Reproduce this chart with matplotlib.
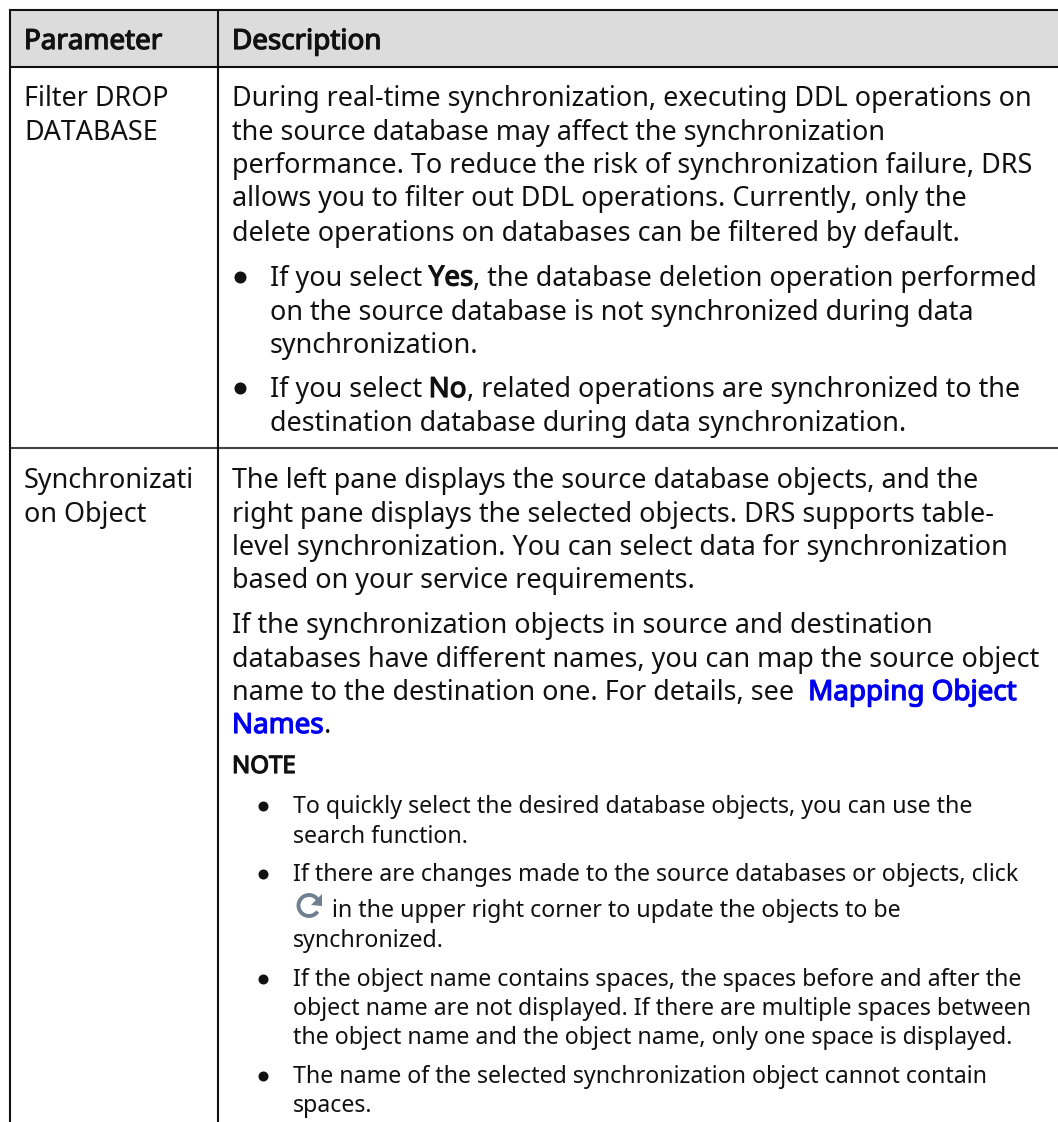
import matplotlib
matplotlib.use('Agg')
import matplotlib.pyplot as plt
import matplotlib.patheffects as pe
from matplotlib.patches import Arc, Polygon, Rectangle

plt.rcParams['font.family'] = ['Noto Sans', 'DejaVu Sans']

W, H = 1058, 1122
BODY = 19.4
BOLD = 20.0
SMALL = 16.7
BLACK = '#111111'
LINK = '#0000ee'

headers = ['Parameter', 'Description']

# each line: baseline y, x, list of (text, style)
left_lines = [
    (106, 'Filter DROP'),
    (140, 'DATABASE'),
    (487.5, 'Synchronizati'),
    (522, 'on Object'),
]

body_lines = [
    (106, 232, [('During real-time synchronization, executing DDL operations on', 'n')]),
    (140, 232, [('the source database may affect the synchronization', 'n')]),
    (172.5, 232, [('performance. To reduce the risk of synchronization failure, DRS', 'n')]),
    (206, 232, [('allows you to filter out DDL operations. Currently, only the', 'n')]),
    (241, 232, [('delete operations on databases can be filtered by default.', 'n')]),
    (285.5, 269.5, [('If you select ', 'n'), ('Yes', 'b'), (', the database deletion operation performed', 'n')]),
    (320, 269.5, [('on the source database is not synchronized during data', 'n')]),
    (353, 269.5, [('synchronization.', 'n')]),
    (397, 269.5, [('If you select ', 'n'), ('No', 'b'), (', related operations are synchronized to the', 'n')]),
    (431, 269.5, [('destination database during data synchronization.', 'n')]),
    (487.5, 232, [('The left pane displays the source database objects, and the', 'n')]),
    (522, 232, [('right pane displays the selected objects. DRS supports table-', 'n')]),
    (555, 232, [('level synchronization. You can select data for synchronization', 'n')]),
    (588, 232, [('based on your service requirements.', 'n')]),
    (633, 232, [('If the synchronization objects in source and destination', 'n')]),
    (667, 232, [('databases have different names, you can map the source object', 'n')]),
    (700, 232, [('name to the destination one. For details, see  ', 'n'), ('Mapping Object', 'l')]),
    (733, 232, [('Names', 'l'), ('.', 'n')]),
]

note_title = (773, 232, 'NOTE')

note_lines = [
    (813, 293, 'To quickly select the desired database objects, you can use the'),
    (843, 293, 'search function.'),
    (881, 293, 'If there are changes made to the source databases or objects, click'),
    (917, 332, 'in the upper right corner to update the objects to be'),
    (947, 293, 'synchronized.'),
    (986, 293, 'If the object name contains spaces, the spaces before and after the'),
    (1015, 293, 'object name are not displayed. If there are multiple spaces between'),
    (1044, 293, 'the object name and the object name, only one space is displayed.'),
    (1083, 293, 'The name of the selected synchronization object cannot contain'),
    (1112, 293, 'spaces.'),
]

bullets = [(240, 277), (240, 388)]
note_bullets = [(263, 806), (263, 874), (263, 979), (263, 1076)]

fig = plt.figure(figsize=(W / 100, H / 100), dpi=100)
ax = fig.add_axes([0, 0, 1, 1])
ax.set_xlim(0, W)
ax.set_ylim(H, 0)
ax.axis('off')


def put(x, y, s, size, color=BLACK, bold=False):
    # the installed Noto Sans shows no bold face, so thicken with a stroke
    t = ax.text(x, y, s, fontsize=size, color=color, va='baseline')
    if bold:
        t.set_path_effects([pe.withStroke(linewidth=0.9, foreground=color)])
    return t


ax.add_patch(Rectangle((9, 10), W - 9, 56.5, fc='#dcdcdc', ec='none'))
for y, c in [(10, '#111111'), (66.5, '#111111'), (448, '#444444')]:
    ax.plot([9, W], [y, y], color=c, lw=1.5, solid_capstyle='butt')
for x in [9.5, 217.5]:
    ax.plot([x, x], [10, H], color='#111111', lw=1.5, solid_capstyle='butt')

put(24, 49, headers[0], BOLD, bold=True)
put(232, 49, headers[1], BOLD, bold=True)

for y, s in left_lines:
    put(24, y, s, BODY)

fig.canvas.draw()
rend = fig.canvas.get_renderer()
for y, x, runs in body_lines:
    for s, style in runs:
        size = BODY if style == 'n' else BOLD
        put(x, y, s, size, color=LINK if style == 'l' else BLACK, bold=style != 'n')
        # advance using a guard bar so trailing spaces count
        probe = ax.text(0, 0, s.replace(' ', '\u00a0') + '|', fontsize=size)
        bar = ax.text(0, 0, '|', fontsize=size)
        x += probe.get_window_extent(rend).width - bar.get_window_extent(rend).width
        probe.remove()
        bar.remove()

put(note_title[1], note_title[0], note_title[2], 17.3, bold=True)
for y, x, s in note_lines:
    put(x, y, s, SMALL)

ax.scatter([b[0] for b in bullets], [b[1] for b in bullets], s=75, color=BLACK, linewidths=0)
ax.scatter([b[0] for b in note_bullets], [b[1] for b in note_bullets], s=52, color=BLACK, linewidths=0)

# refresh icon
ax.add_patch(Arc((309, 905.5), 21, 21, theta1=35, theta2=325, color='#6f7f8f', lw=2.8))
ax.add_patch(Polygon([[322, 894], [322, 906], [311, 905]], closed=True, fc='#6f7f8f', ec='none'))

fig.savefig('out.png', dpi=100)
